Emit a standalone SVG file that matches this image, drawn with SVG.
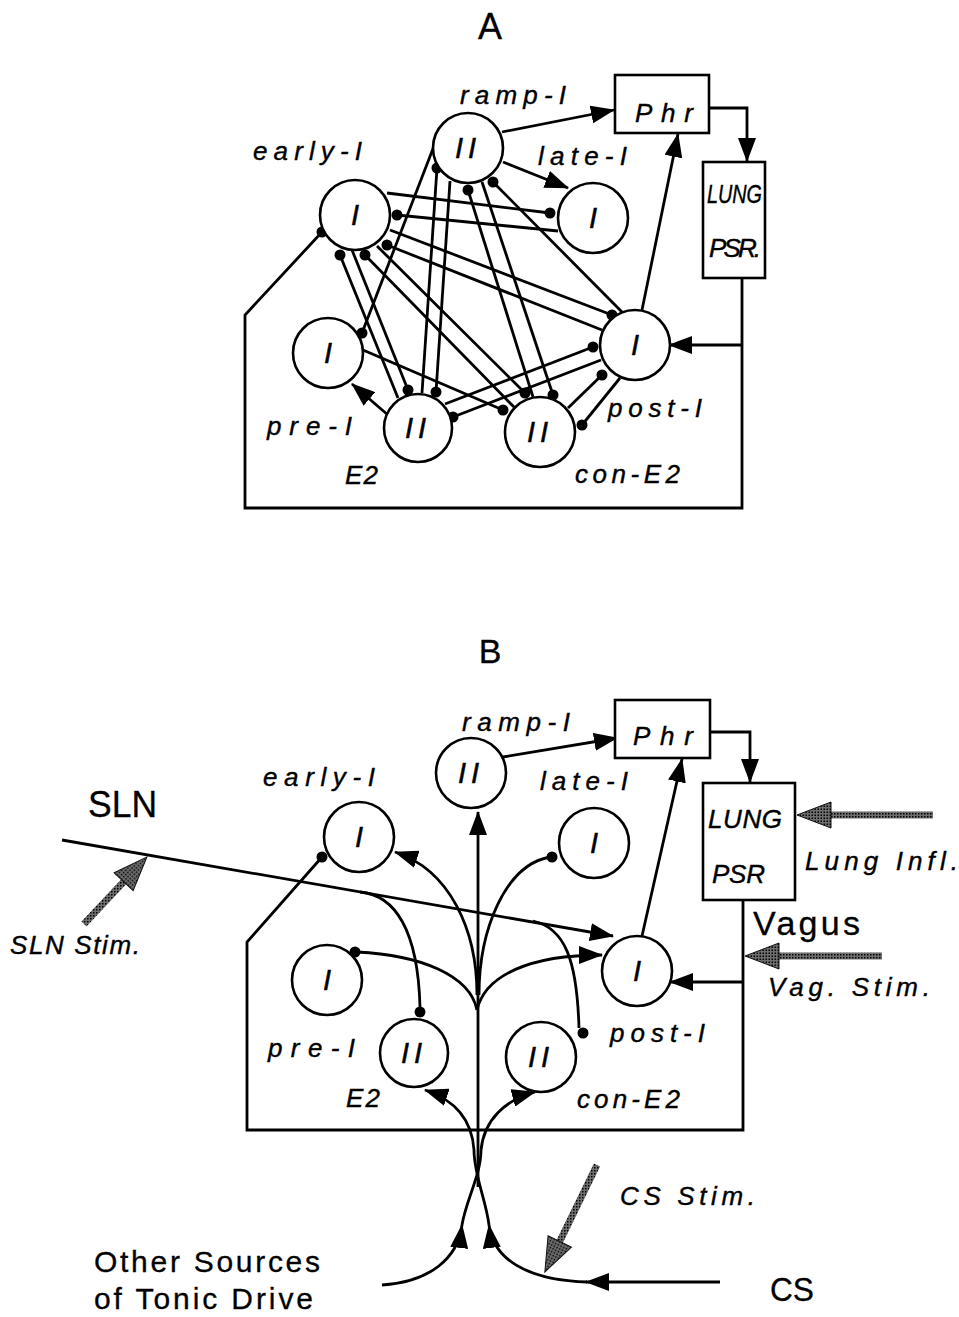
<svg xmlns="http://www.w3.org/2000/svg" width="959" height="1317" viewBox="0 0 959 1317">
<style>
.bg{fill:#fff}
.n{fill:#fff;stroke:#000;stroke-width:2.6}
.bx{fill:#fff;stroke:#000;stroke-width:2.6}
.c{fill:none;stroke:#000;stroke-width:2.8}
.dot{fill:#000}
.lab{font-family:"Liberation Sans",Arial,sans-serif;font-style:italic;font-size:26px;fill:#000;stroke:#000;stroke-width:0.4}
.nl{font-family:"Liberation Sans",Arial,sans-serif;font-style:italic;font-size:29px;fill:#000;stroke:#000;stroke-width:0.5;text-anchor:middle}
.up{font-family:"Liberation Sans",Arial,sans-serif;fill:#000;stroke:#000;stroke-width:0.3}
.gs{fill:none;stroke:url(#stip);stroke-width:7}
</style>
<defs>
<pattern id="stip" width="3" height="3" patternUnits="userSpaceOnUse"><rect width="3" height="3" fill="#6e6e6e"/><rect width="1.5" height="1.5" fill="#000"/></pattern>
<marker id="ah" markerUnits="userSpaceOnUse" markerWidth="24" markerHeight="18" viewBox="0 0 24 18" refX="23" refY="9" orient="auto"><path d="M0,0 L24,9 L0,18 z" fill="#000"/></marker>
<marker id="gh" markerUnits="userSpaceOnUse" markerWidth="34" markerHeight="26" viewBox="0 0 34 26" refX="4" refY="13" orient="auto" overflow="visible"><path d="M0,0 L34,13 L0,26 z" fill="url(#stip)" stroke="#111" stroke-width="1"/></marker>
</defs>
<rect class="bg" width="959" height="1317"/>

<text class="up" x="490" y="39" font-size="36" text-anchor="middle">A</text>
<text class="up" x="490" y="663" font-size="34" text-anchor="middle">B</text>

<!-- Panel A connectors -->
<g id="connectors-A">
<path class="c" d="M502,132 L614,110" marker-end="url(#ah)"/>
<path class="c" d="M503,162 L568,188" marker-end="url(#ah)"/>
<path class="c" d="M642,310 L678,134" marker-end="url(#ah)"/>
<path class="c" d="M388,415 L352,384" marker-end="url(#ah)"/>
<path class="c" d="M709,108 H747 V161" marker-end="url(#ah)"/>
<path class="c" d="M742,278 V508 H245 V315 L322,232"/>
<path class="c" d="M742,345 H669" marker-end="url(#ah)"/>
<line class="c" x1="387" y1="193" x2="550" y2="213"/>
<line class="c" x1="397" y1="215" x2="558" y2="231"/>
<line class="c" x1="390" y1="230" x2="612" y2="315"/>
<line class="c" x1="387" y1="245" x2="602" y2="330"/>
<line class="c" x1="340" y1="255" x2="398" y2="398"/>
<line class="c" x1="352" y1="250" x2="408" y2="390"/>
<line class="c" x1="365" y1="255" x2="514" y2="407"/>
<line class="c" x1="377" y1="246" x2="525" y2="393"/>
<line class="c" x1="437" y1="168" x2="422" y2="393"/>
<line class="c" x1="450" y1="181" x2="436" y2="392"/>
<line class="c" x1="468" y1="190" x2="533" y2="397"/>
<line class="c" x1="482" y1="182" x2="553" y2="395"/>
<line class="c" x1="445" y1="404" x2="593" y2="347"/>
<line class="c" x1="453" y1="417" x2="601" y2="360"/>
<line class="c" x1="568" y1="408" x2="602" y2="375"/>
<line class="c" x1="582" y1="425" x2="620" y2="378"/>
<line class="c" x1="493" y1="182" x2="622" y2="312"/>
<line class="c" x1="434" y1="146" x2="362" y2="333"/>
<line class="c" x1="363" y1="350" x2="503" y2="410"/>
<g class="dot">
<circle cx="550" cy="213" r="5.5"/><circle cx="397" cy="215" r="5.5"/><circle cx="612" cy="315" r="5.5"/><circle cx="387" cy="245" r="5.5"/>
<circle cx="340" cy="255" r="5.5"/><circle cx="408" cy="390" r="5.5"/><circle cx="365" cy="255" r="5.5"/><circle cx="525" cy="393" r="5.5"/>
<circle cx="437" cy="168" r="5.5"/><circle cx="436" cy="392" r="5.5"/><circle cx="468" cy="190" r="5.5"/><circle cx="553" cy="395" r="5.5"/>
<circle cx="593" cy="347" r="5.5"/><circle cx="453" cy="417" r="5.5"/><circle cx="602" cy="375" r="5.5"/><circle cx="582" cy="425" r="5.5"/>
<circle cx="493" cy="182" r="5.5"/><circle cx="362" cy="333" r="5.5"/><circle cx="503" cy="410" r="5.5"/><circle cx="322" cy="232" r="5.5"/>
</g>
</g>

<!-- Panel A nodes -->
<g id="A-ramp-I"><circle class="n" cx="468" cy="148" r="35"/><text class="nl" x="468" y="158" letter-spacing="5">II</text><text class="lab" x="460" y="104" textLength="106" lengthAdjust="spacing">ramp-I</text></g>
<g id="A-early-I"><circle class="n" cx="355" cy="215" r="35"/><text class="nl" x="355" y="225">I</text><text class="lab" x="253" y="160" textLength="109" lengthAdjust="spacing">early-I</text></g>
<g id="A-late-I"><circle class="n" cx="593" cy="218" r="35"/><text class="nl" x="593" y="228">I</text><text class="lab" x="538" y="165" textLength="89" lengthAdjust="spacing">late-I</text></g>
<g id="A-pre-I"><circle class="n" cx="328" cy="353" r="35"/><text class="nl" x="328" y="363">I</text><text class="lab" x="267" y="435" textLength="85" lengthAdjust="spacing">pre-I</text></g>
<g id="A-E2"><circle class="n" cx="418" cy="428" r="34"/><text class="nl" x="418" y="438" letter-spacing="5">II</text><text class="lab" x="345" y="484" textLength="33" lengthAdjust="spacing">E2</text></g>
<g id="A-con-E2"><circle class="n" cx="540" cy="432" r="35"/><text class="nl" x="540" y="442" letter-spacing="5">II</text><text class="lab" x="575" y="483" textLength="105" lengthAdjust="spacing">con-E2</text></g>
<g id="A-post-I"><circle class="n" cx="635" cy="345" r="35"/><text class="nl" x="635" y="355">I</text><text class="lab" x="608" y="417" textLength="94" lengthAdjust="spacing">post-I</text></g>
<g id="A-Phr"><rect class="bx" x="615" y="75" width="94" height="58"/><text class="lab" x="635" y="122" font-size="27" textLength="58" lengthAdjust="spacing">Phr</text></g>
<g id="A-LUNG-PSR"><rect class="bx" x="703" y="162" width="62" height="116"/><text class="lab" x="707" y="203" font-size="23" textLength="55" lengthAdjust="spacingAndGlyphs">LUNG</text><text class="lab" x="709" y="257" font-size="24" textLength="52" lengthAdjust="spacing">PSR.</text></g>

<!-- Panel B connectors -->
<g id="connectors-B">
<path class="c" d="M503,757 L617,738" marker-end="url(#ah)"/>
<path class="c" d="M642,936 L682,759" marker-end="url(#ah)"/>
<path class="c" d="M710,732 H750 V782" marker-end="url(#ah)"/>
<path class="c" d="M743,900 V1130 H247 V942 L322,857"/>
<path class="c" d="M743,982 H670" marker-end="url(#ah)"/>
<path class="c" d="M62,840 L613,936" marker-end="url(#ah)"/>
<path class="c" d="M360,892 C395,895 418,930 420,1007"/>
<path class="c" d="M533,921 C565,928 577,960 579,1028"/>
<path class="c" d="M478,1187 V812" marker-end="url(#ah)"/>
<path class="c" d="M477,995 C477,930 450,870 395,852" marker-end="url(#ah)"/>
<path class="c" d="M479,995 C479,930 505,865 550,857"/>
<path class="c" d="M477,1010 C470,975 420,955 357,952"/>
<path class="c" d="M477,1010 C485,975 530,955 602,955" marker-end="url(#ah)"/>
<path class="c" d="M474,1150 C472,1120 455,1100 425,1090" marker-end="url(#ah)"/>
<path class="c" d="M481,1150 C484,1120 505,1100 535,1092" marker-end="url(#ah)"/>
<path class="c" d="M382,1285 C430,1282 458,1258 462,1225" marker-end="url(#ah)"/>
<path class="c" d="M462,1225 C466,1200 481,1175 481,1150"/>
<path class="c" d="M587,1282 C525,1280 493,1258 489,1225" marker-end="url(#ah)"/>
<path class="c" d="M489,1225 C486,1200 474,1175 474,1150"/>
<path class="c" d="M720,1282 L586,1282" marker-end="url(#ah)"/>
<path class="gs" d="M933,815 L827,815" marker-end="url(#gh)"/>
<path class="gs" d="M882,956 L775,956" marker-end="url(#gh)"/>
<path class="gs" d="M84,924 L126.4,878.8" marker-end="url(#gh)"/>
<path class="gs" d="M597,1165 L558,1245" marker-end="url(#gh)"/>
<g class="dot">
<circle cx="322" cy="857" r="5.5"/><circle cx="420" cy="1012" r="5.5"/><circle cx="583" cy="1033" r="5.5"/><circle cx="552" cy="857" r="5.5"/><circle cx="355" cy="952" r="5.5"/>
</g>
</g>

<!-- Panel B nodes -->
<g id="B-ramp-I"><circle class="n" cx="471" cy="773" r="35"/><text class="nl" x="471" y="783" letter-spacing="5">II</text><text class="lab" x="462" y="731" textLength="108" lengthAdjust="spacing">ramp-I</text></g>
<g id="B-early-I"><circle class="n" cx="359" cy="837" r="35"/><text class="nl" x="359" y="847">I</text><text class="lab" x="263" y="786" textLength="112" lengthAdjust="spacing">early-I</text></g>
<g id="B-late-I"><circle class="n" cx="594" cy="843" r="35"/><text class="nl" x="594" y="853">I</text><text class="lab" x="540" y="790" textLength="88" lengthAdjust="spacing">late-I</text></g>
<g id="B-pre-I"><circle class="n" cx="327" cy="980" r="35"/><text class="nl" x="327" y="990">I</text><text class="lab" x="268" y="1057" textLength="87" lengthAdjust="spacing">pre-I</text></g>
<g id="B-E2"><circle class="n" cx="414" cy="1053" r="34"/><text class="nl" x="414" y="1063" letter-spacing="5">II</text><text class="lab" x="346" y="1107" textLength="34" lengthAdjust="spacing">E2</text></g>
<g id="B-con-E2"><circle class="n" cx="541" cy="1057" r="35"/><text class="nl" x="541" y="1067" letter-spacing="5">II</text><text class="lab" x="577" y="1108" textLength="103" lengthAdjust="spacing">con-E2</text></g>
<g id="B-post-I"><circle class="n" cx="637" cy="971" r="35"/><text class="nl" x="637" y="981">I</text><text class="lab" x="610" y="1042" textLength="95" lengthAdjust="spacing">post-I</text></g>
<g id="B-Phr"><rect class="bx" x="615" y="700" width="95" height="58"/><text class="lab" x="633" y="745" font-size="27" textLength="60" lengthAdjust="spacing">Phr</text></g>
<g id="B-LUNG-PSR"><rect class="bx" x="703" y="783" width="92" height="117"/><text class="lab" x="708" y="828" font-size="27" textLength="74" lengthAdjust="spacing">LUNG</text><text class="lab" x="712" y="883" font-size="26" textLength="53" lengthAdjust="spacing">PSR</text></g>

<!-- Panel B free labels -->
<g id="B-labels">
<text class="up" x="88" y="817" font-size="36" textLength="69" lengthAdjust="spacingAndGlyphs">SLN</text>
<text class="lab" x="10" y="954" font-size="27" textLength="130" lengthAdjust="spacing">SLN  Stim.</text>
<text class="lab" x="805" y="870" font-size="32" textLength="153" lengthAdjust="spacing">Lung  Infl.</text>
<text class="up" x="753" y="935" font-size="34" textLength="107" lengthAdjust="spacing">Vagus</text>
<text class="lab" x="768" y="996" font-size="29" textLength="162" lengthAdjust="spacing">Vag.  Stim.</text>
<text class="lab" x="620" y="1205" font-size="29" textLength="135" lengthAdjust="spacing">CS  Stim.</text>
<text class="up" x="770" y="1301" font-size="34" textLength="44" lengthAdjust="spacingAndGlyphs">CS</text>
<text class="up" x="94" y="1272" font-size="30" textLength="226" lengthAdjust="spacing">Other  Sources</text>
<text class="up" x="94" y="1309" font-size="30" textLength="219" lengthAdjust="spacing">of  Tonic  Drive</text>
</g>
</svg>
